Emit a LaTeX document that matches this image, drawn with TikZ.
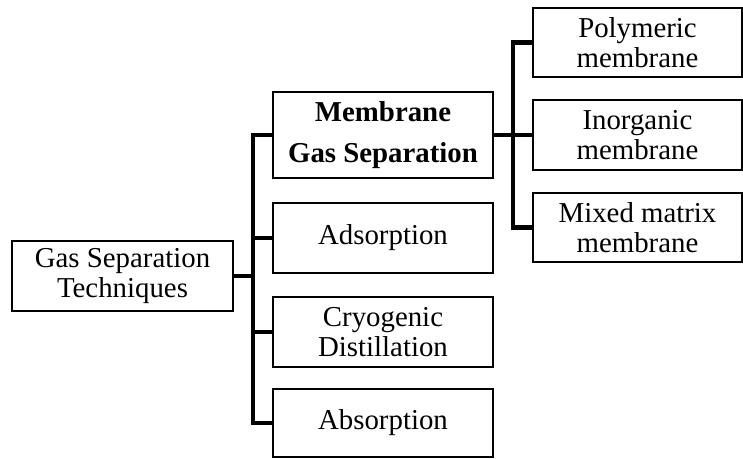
\documentclass[tikz,border=0pt]{standalone}
\usepackage{fontspec}
\setmainfont{Liberation Serif}
\usetikzlibrary{positioning,shadows}

\tikzset{
  box/.style={shape=rectangle,draw,line width=1pt,fill=white,align=center,
    inner sep=0pt,font=\fontsize{20.5}{21}\selectfont,
    drop shadow={shadow xshift=0.7pt,shadow yshift=-0.9pt,opacity=0.3}},
  link/.style={line width=3.5pt}
}

\begin{document}
\begin{tikzpicture}[x=0.025cm,y=-0.025cm]
    \useasboundingbox (0,0) rectangle (743,459);

    % root
    \node[box,minimum width=5.525cm,minimum height=1.75cm]
      (gst) at (122.5,276) {Gas Separation\\Techniques};

    % techniques
    \node[box,minimum width=5.5cm,minimum height=2.15cm,
      font=\fontsize{20.5}{21}\selectfont\bfseries]
      (mgs) at (383,135) {Membrane\\[8pt]Gas Separation};
    \node[box,minimum width=5.5cm,minimum height=1.75cm]
      (ads) at (383,238) {Adsorption};
    \node[box,minimum width=5.5cm,minimum height=1.75cm]
      (cry) at (383,332) {Cryogenic\\Distillation};
    \node[box,minimum width=5.5cm,minimum height=1.7cm]
      (abs) at (383,423) {Absorption};

    % membrane types
    \node[box,minimum width=5.225cm,minimum height=1.725cm]
      (poly) at (637.5,42.5) {Polymeric\\membrane};
    \node[box,minimum width=5.225cm,minimum height=1.75cm]
      (inorg) at (637.5,135) {Inorganic\\membrane};
    \node[box,minimum width=5.225cm,minimum height=1.725cm]
      (mmm) at (637.5,227.5) {Mixed matrix\\membrane};

    % tree lines
    \coordinate (hub) at (253,276);
    \draw[link] (gst.east) -- (hub);
    \foreach \t in {mgs,ads,cry,abs} {
      \draw[link] (hub) |- (\t.west);
    }

    \coordinate (hubm) at (513,135);
    \draw[link] (mgs.east) -- (hubm);
    \foreach \t in {poly,inorg,mmm} {
      \draw[link] (hubm) |- (\t.west);
    }
\end{tikzpicture}
\end{document}
